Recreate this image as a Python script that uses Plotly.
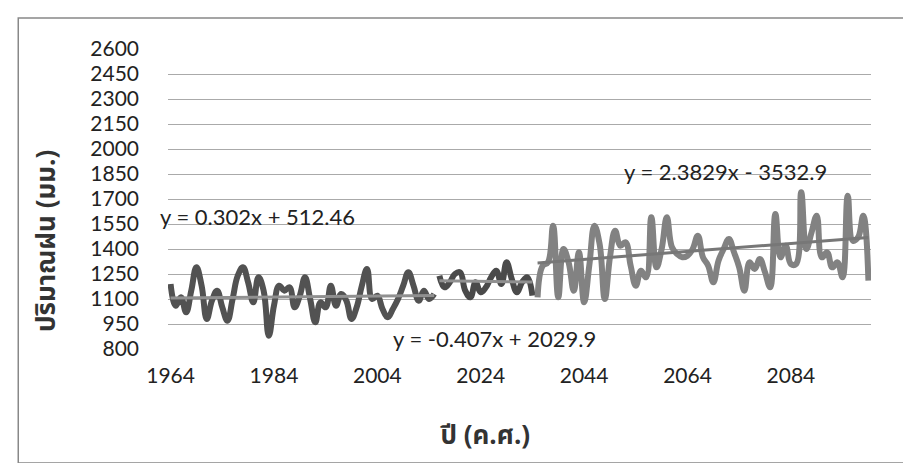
import plotly.graph_objects as go

# ---------------- data ----------------
hist_years = list(range(1964, 2016))
hist_rain = [1190, 1060, 1110, 1020, 1150, 1290, 1180, 980, 1090, 1150,
             1050, 970, 1100, 1240, 1290, 1200, 1080, 1230, 1150, 880,
             1060, 1180, 1150, 1170, 1050, 1120, 1230, 1100, 960, 1080,
             1050, 1180, 1060, 1130, 1090, 980, 1050, 1180, 1280, 1100,
             1120, 1040, 990, 1040, 1100, 1180, 1260, 1180, 1090, 1150,
             1100, 1130]

near_years = list(range(2016, 2035))
near_rain = [1240, 1170, 1200, 1250, 1260, 1150, 1110, 1200, 1140, 1170,
             1230, 1270, 1190, 1320, 1220, 1140, 1200, 1230, 1120]

far_years = list(range(2035, 2100))
far_rain = [1110, 1300, 1320, 1540, 1110, 1400, 1320, 1150, 1380, 1080,
            1300, 1540, 1430, 1100, 1350, 1510, 1420, 1440, 1300, 1180,
            1270, 1230, 1590, 1290, 1400, 1590, 1410, 1370, 1350, 1360,
            1400, 1480, 1350, 1300, 1200, 1330, 1400, 1460, 1380, 1290,
            1150, 1320, 1280, 1340, 1260, 1170, 1610, 1350, 1420, 1310,
            1310, 1740, 1400, 1500, 1600, 1350, 1380, 1290, 1320, 1230,
            1720, 1450, 1470, 1600, 1210]

# trendline coefficients (slope, intercept) and labels
hist_trend = (0.302, 512.46)
near_trend = (-0.407, 2029.9)
far_trend = (2.3829, -3532.9)
hist_label = "y = 0.302x + 512.46"
near_label = "y = -0.407x + 2029.9"
far_label = "y = 2.3829x - 3532.9"

x_ticks = [1964, 1984, 2004, 2024, 2044, 2064, 2084]
y_ticks = list(range(800, 2601, 150))

x_title = "ปี (ค.ศ.)"
y_title = "ปริมาณฝน (มม.)"

FONT = "Lato, 'Noto Sans', 'DejaVu Sans', sans-serif"
THAI_FONT = "'Noto Sans Thai', 'Noto Sans', 'DejaVu Sans', Lato, sans-serif"

fig = go.Figure()

def add_series(xs, ys, color):
    fig.add_trace(go.Scatter(x=xs, y=ys, mode="lines",
                             line=dict(color=color, width=6, shape="spline", smoothing=1.2),
                             showlegend=False, hoverinfo="skip"))

def add_trend(xs, coef, color):
    a, b = coef
    ends = [xs[0], xs[-1]]
    fig.add_trace(go.Scatter(x=ends, y=[a * v + b for v in ends], mode="lines",
                             line=dict(color=color, width=3),
                             showlegend=False, hoverinfo="skip"))

add_series(hist_years, hist_rain, "#525252")
add_series(near_years, near_rain, "#4a4a4a")
add_series(far_years, far_rain, "#828282")
add_trend(hist_years, hist_trend, "#909090")
add_trend(near_years, near_trend, "#909090")
add_trend(far_years, far_trend, "#777777")

fig.add_annotation(xref="paper", x=-0.014, y=1598, text=hist_label, showarrow=False,
                   xanchor="left", yanchor="middle",
                   font=dict(family=FONT, size=22, color="#222"))
fig.add_annotation(x=2026.6, y=866, text=near_label, showarrow=False,
                   xanchor="center", yanchor="middle",
                   font=dict(family=FONT, size=22, color="#222"))
fig.add_annotation(x=2071.4, y=1868, text=far_label, showarrow=False,
                   xanchor="center", yanchor="middle",
                   font=dict(family=FONT, size=22, color="#222"))

fig.add_annotation(xref="paper", yref="paper", x=-0.172, y=0.36, text="<b>" + y_title + "</b>",
                   textangle=-90, showarrow=False, xanchor="center", yanchor="middle",
                   font=dict(family=THAI_FONT, size=26, color="#333"))
fig.add_annotation(xref="paper", yref="paper", x=0.451, y=-0.29, text="<b>" + x_title + "</b>",
                   showarrow=False, xanchor="center", yanchor="middle",
                   font=dict(family=THAI_FONT, size=26, color="#333"))

# outer chart border
fig.add_shape(type="rect", xref="paper", yref="paper",
              x0=-0.213, x1=1.059, y0=-0.38, y1=1.103,
              line=dict(color="#888", width=1.5), fillcolor="rgba(0,0,0,0)")

fig.update_layout(
    width=911, height=463,
    margin=dict(l=160, r=48, t=41, b=122),
    paper_bgcolor="white", plot_bgcolor="white",
    xaxis=dict(range=[1963.5, 2099.5], tickvals=x_ticks, ticktext=[str(v) for v in x_ticks],
               showgrid=False, zeroline=False, showline=False, ticks="",
               ticklabelstandoff=12,
               tickfont=dict(family=FONT, size=21, color="#222")),
    yaxis=dict(range=[800, 2600], tickvals=y_ticks, showgrid=True,
               gridcolor="#aaaaaa", gridwidth=1, zeroline=False, showline=False,
               ticks="", ticklabelstandoff=28,
               tickfont=dict(family=FONT, size=21, color="#222")),
)

fig.write_html("out.html")
